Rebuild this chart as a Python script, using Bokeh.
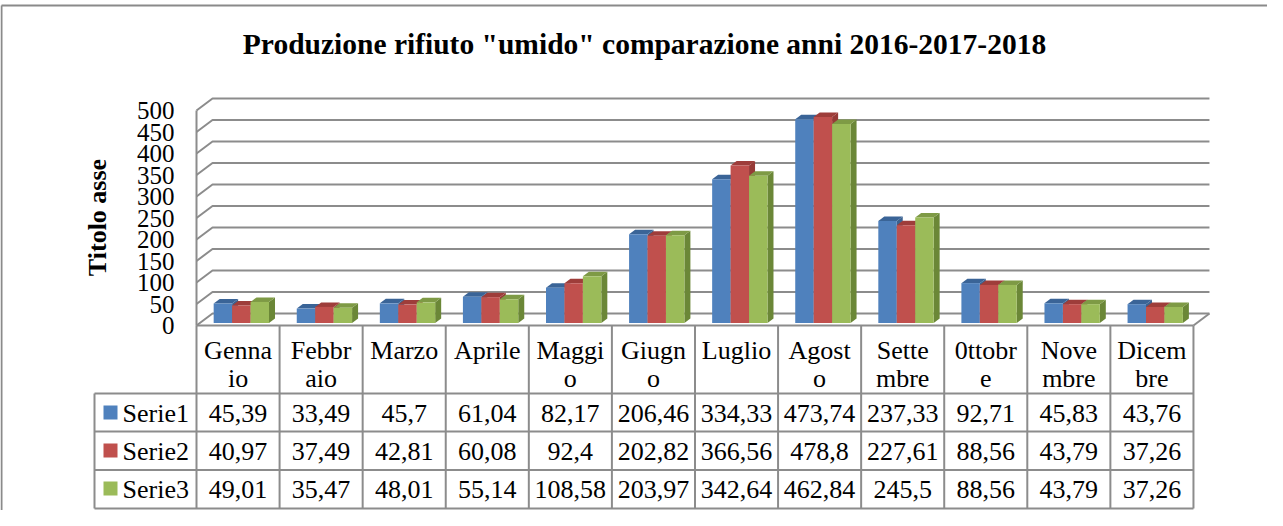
import math
from bokeh.plotting import figure
from bokeh.models import Range1d
from bokeh.core.properties import value
from bokeh.embed import file_html
from bokeh.resources import INLINE

# ---------------- data ----------------
months = ["Gennaio", "Febbraio", "Marzo", "Aprile", "Maggio", "Giugno",
          "Luglio", "Agosto", "Settembre", "0ttobre", "Novembre", "Dicembre"]
month_line1 = ["Genna", "Febbr", "Marzo", "Aprile", "Maggi", "Giugn",
               "Luglio", "Agost", "Sette", "0ttobr", "Nove", "Dicem"]
month_line2 = ["io", "aio", "", "", "o", "o", "", "o", "mbre", "e", "mbre", "bre"]
series_names = ["Serie1", "Serie2", "Serie3"]
serie1 = [45.39, 33.49, 45.7, 61.04, 82.17, 206.46, 334.33, 473.74, 237.33, 92.71, 45.83, 43.76]
serie2 = [40.97, 37.49, 42.81, 60.08, 92.4, 202.82, 366.56, 478.8, 227.61, 88.56, 43.79, 37.26]
serie3 = [49.01, 35.47, 48.01, 55.14, 108.58, 203.97, 342.64, 462.84, 245.5, 88.56, 43.79, 37.26]
y_ticks = [0, 50, 100, 150, 200, 250, 300, 350, 400, 450, 500]
title_text = 'Produzione rifiuto "umido" comparazione anni 2016-2017-2018'
axis_title = "Titolo asse"

series = [serie1, serie2, serie3]

# ---------------- styles / layout ----------------
FONT = value("Liberation Serif")
front_cols = ["#4F81BD", "#C0504D", "#9BBB59"]
top_cols = ["#3A6497", "#9E3D3A", "#7E9A45"]
side_cols = ["#3B6290", "#963A37", "#6B8737"]
GRID = "#8C8C8C"

W, H = 1267, 510
X0, CW = 196.0, 83.08      # table left edge (px), column width (px)
Y0, KY = 325.0, 0.43       # front-plane zero (px), px per unit
ux, uy = 1.0 / CW, 1.0 / KY
n = len(months)


def fx(px):
    return (px - X0) / CW


p = figure(width=W, height=H,
           x_range=Range1d(-X0 / CW, (W - X0) / CW),
           y_range=Range1d(-(H - Y0) / KY, Y0 / KY),
           x_axis_type=None, y_axis_type=None,
           toolbar_location=None, output_backend="svg",
           min_border=0, outline_line_color=None,
           background_fill_color="white", border_fill_color="white")
p.grid.visible = False
p.extra_y_ranges = {"px": Range1d(H, 0)}

# ---------------- walls & gridlines ----------------
dxw, dyw = 16 * ux, 12 * uy
p.multi_line(xs=[[0, dxw, n + dxw] for t in y_ticks],
             ys=[[t, t + dyw, t + dyw] for t in y_ticks],
             line_color=GRID, line_width=2)
p.multi_line(xs=[[0, 0], [n, n + dxw], [0, n]],
             ys=[[0, y_ticks[-1]], [0, dyw], [0, 0]],
             line_color=GRID, line_width=2)

# ---------------- 3D bars ----------------
bw = 0.222
offx, offy = 3.3 * ux, 2.5 * uy
ddx, ddy = 6 * ux, 4.5 * uy
for k, vals in enumerate(series):
    left = [i + 0.5 - 1.5 * bw + k * bw + offx for i in range(n)]
    right = [l + bw for l in left]
    bottom = offy
    tops = [v + offy for v in vals]
    p.patches(xs=[[r, r + ddx, r + ddx, r] for r in right],
              ys=[[bottom, bottom + ddy, t + ddy, t] for t in tops],
              fill_color=side_cols[k], line_color=None)
    p.patches(xs=[[l, l + ddx, r + ddx, r] for l, r in zip(left, right)],
              ys=[[t, t + ddy, t + ddy, t] for t in tops],
              fill_color=top_cols[k], line_color=None)
    p.quad(left=left, right=right, bottom=bottom, top=tops,
           fill_color=front_cols[k], line_color=None)

# ---------------- y tick labels ----------------
p.text(x=[fx(174)] * len(y_ticks), y=y_ticks, text=[str(t) for t in y_ticks],
       text_font=FONT, text_font_size="25px", text_align="right",
       text_baseline="middle", text_color="black")

# axis title
p.text(x=[fx(97)], y=[217], text=[axis_title], angle=math.pi / 2,
       text_font=FONT, text_font_size="26px", text_font_style="bold",
       text_align="center", text_baseline="middle", y_range_name="px")

# chart title
p.text(x=[fx(644)], y=[43], text=[title_text],
       text_font=FONT, text_font_size="29.5px", text_font_style="bold",
       text_align="center", text_baseline="middle", y_range_name="px")

# outer border
p.segment(x0=[fx(1), fx(1)], y0=[5, 5], x1=[fx(1), (W - X0) / CW], y1=[H, 5],
          line_color="#8A8A8A", line_width=2, y_range_name="px")

# ---------------- data table ----------------
row_lines = [393, 431, 469.5, 508]
leg_left = fx(94)
p.segment(x0=[leg_left] * len(row_lines), x1=[n] * len(row_lines),
          y0=row_lines, y1=row_lines,
          line_color=GRID, line_width=2, y_range_name="px")
p.segment(x0=list(range(n + 1)) + [leg_left], x1=list(range(n + 1)) + [leg_left],
          y0=[325] * (n + 1) + [393], y1=[508] * (n + 2),
          line_color=GRID, line_width=2, y_range_name="px")

centers = [i + 0.5 for i in range(n)]
p.text(x=centers, y=[350] * n, text=month_line1, text_font=FONT,
       text_font_size="26px", text_align="center", text_baseline="middle",
       y_range_name="px")
p.text(x=centers, y=[377.5] * n, text=month_line2, text_font=FONT,
       text_font_size="26px", text_align="center", text_baseline="middle",
       y_range_name="px")

row_mid = [413, 451, 489]
for k, vals in enumerate(series):
    p.text(x=centers, y=[row_mid[k]] * n,
           text=[str(v).replace(".", ",") for v in vals],
           text_font=FONT, text_font_size="26px", text_align="center",
           text_baseline="middle", y_range_name="px")
    p.scatter(x=[fx(110)], y=[row_mid[k] - 1], marker="square", size=14,
              fill_color=front_cols[k], line_color=None, y_range_name="px")
    p.text(x=[fx(122)], y=[row_mid[k]], text=[series_names[k]],
           text_font=FONT, text_font_size="26px", text_align="left",
           text_baseline="middle", y_range_name="px")

open("out.html", "w").write(file_html(p, INLINE))
